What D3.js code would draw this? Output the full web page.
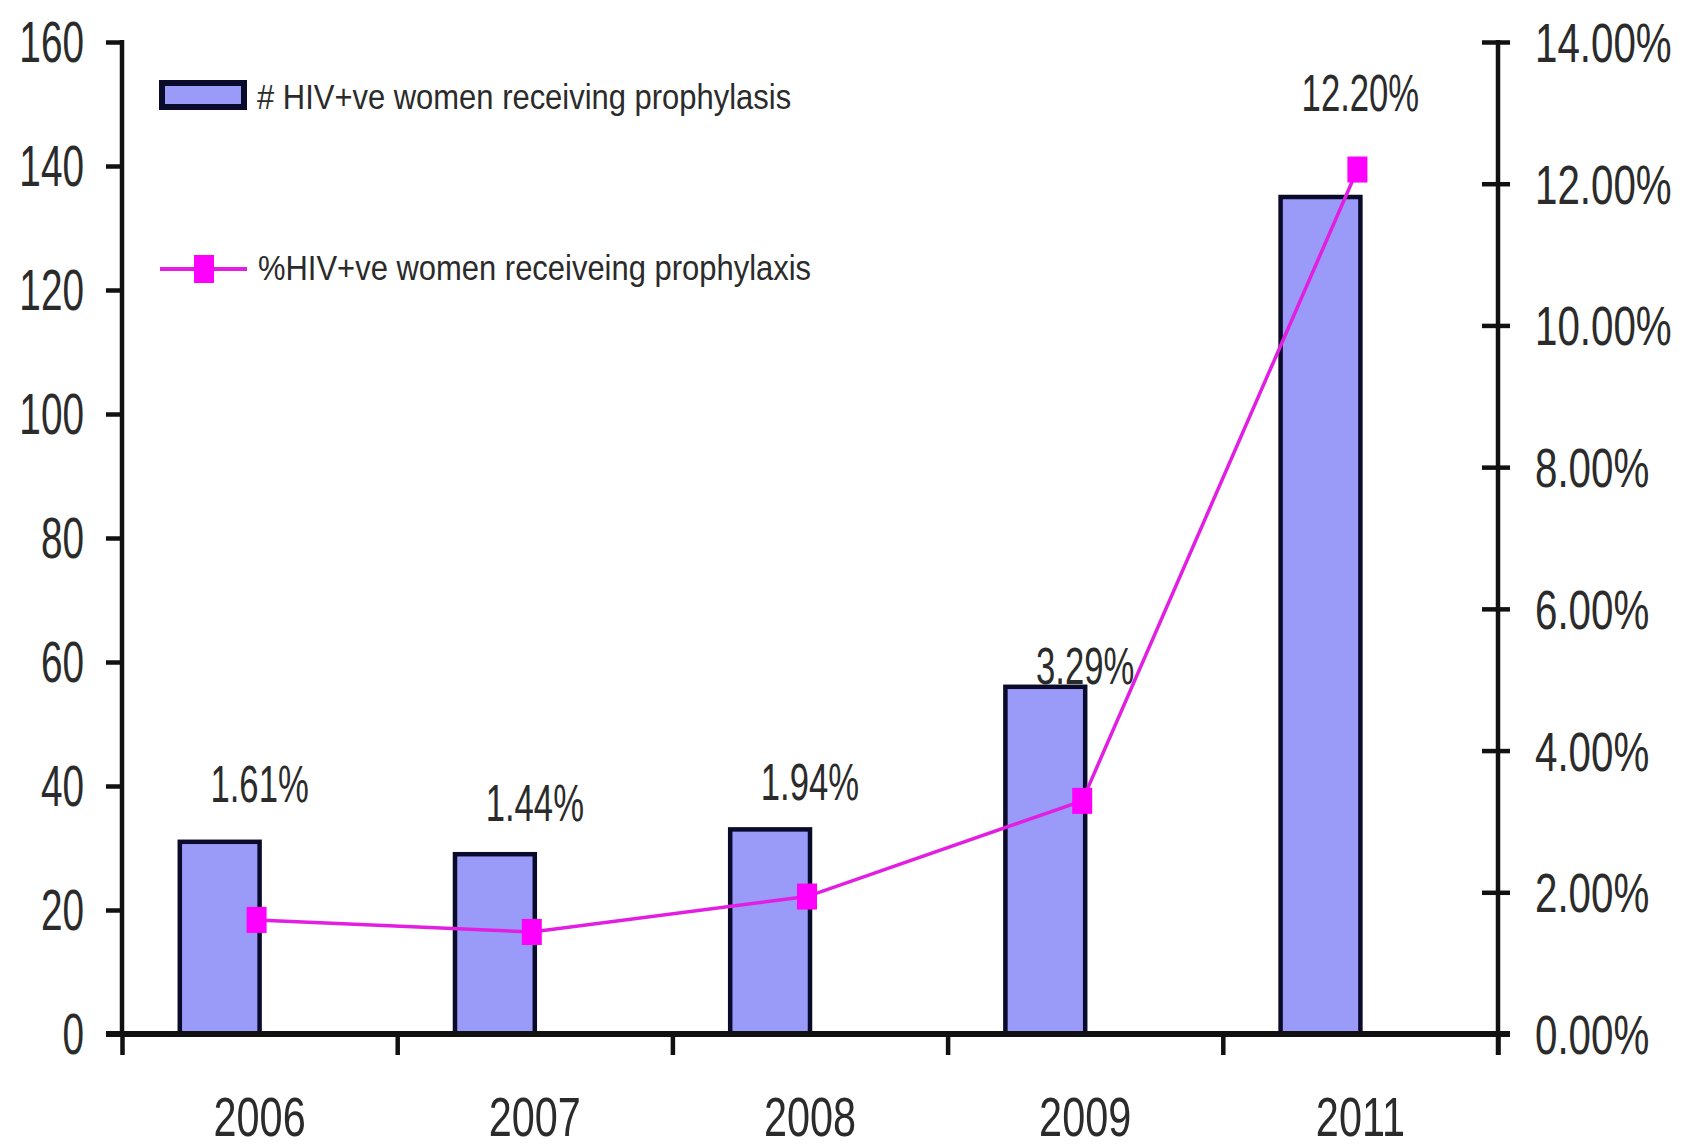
<!DOCTYPE html>
<html>
<head>
<meta charset="utf-8">
<script src="https://cdn.jsdelivr.net/npm/d3@7"></script>
<style>
  html, body { margin: 0; padding: 0; background: #ffffff; }
  svg { display: block; }
  text { font-family: "Liberation Sans", Arial, Helvetica, sans-serif; fill: #2b2b2b; }
</style>
</head>
<body>
<svg id="chart" width="1687" height="1148"></svg>
<script>
// ---- data ----
const years = ["2006", "2007", "2008", "2009", "2011"];
const womenOnProphylaxis = [31, 29, 33, 56, 135];             // count (left axis)
const pctOnProphylaxis = [0.0161, 0.0144, 0.0194, 0.0329, 0.1220]; // share (right axis)
const countTicks = [0, 20, 40, 60, 80, 100, 120, 140, 160];
const pctTicks = [0, 0.02, 0.04, 0.06, 0.08, 0.10, 0.12, 0.14];
const legendLabels = [
  "# HIV+ve women receiving prophylasis",
  "%HIV+ve women receiveing prophylaxis"
];

// ---- layout ----
const plot = { left: 122, right: 1498, top: 42, bottom: 1034 };
const labelLift = [135, 129, 114, 134, 76];   // distance of each % label above its point
const barColor = "#9a9af8";
const barEdge = "#0a0a2a";
const lineColor = "#e21ee2";
const markerColor = "#ff00ff";

const svg = d3.select("#chart");

const x = d3.scaleBand().domain(years).range([plot.left, plot.right]).padding(0);
const xEdge = d3.scaleLinear().domain([0, years.length]).range([plot.left, plot.right]);
const yCount = d3.scaleLinear().domain([0, 160]).range([plot.bottom, plot.top]);
const yPct = d3.scaleLinear().domain([0, 0.14]).range([plot.bottom, plot.top]);

const center = d => x(d) + x.bandwidth() / 2;
const barW = x.bandwidth() * 0.29;
const markerX = d => center(d) - 3;

// ---- bars (sit just left of the category centre) ----
svg.append("g").selectAll("rect")
  .data(years)
  .join("rect")
  .attr("x", d => center(d) - barW)
  .attr("y", (d, i) => yCount(womenOnProphylaxis[i]))
  .attr("width", barW)
  .attr("height", (d, i) => yCount(0) - yCount(womenOnProphylaxis[i]))
  .attr("fill", barColor)
  .attr("stroke", barEdge)
  .attr("stroke-width", 4.5);

// ---- axes ----
function styleAxis(g) {
  g.select(".domain").remove();
  g.selectAll(".tick line").attr("stroke", "#111").attr("stroke-width", 4.5);
}

// left axis
const leftAxis = svg.append("g")
  .attr("transform", `translate(${plot.left},0)`)
  .call(d3.axisLeft(yCount).tickValues(countTicks).tickFormat(d3.format("d")).tickSize(16));
styleAxis(leftAxis);
leftAxis.selectAll(".tick text")
  .attr("x", null).attr("dy", null)
  .attr("transform", "translate(-38,0) scale(0.68,1)")
  .attr("text-anchor", "end")
  .attr("dominant-baseline", "central")
  .style("font-size", "57px")
  .attr("fill", "#2b2b2b");

// right axis
const rightAxis = svg.append("g")
  .attr("transform", `translate(${plot.right},0)`)
  .call(d3.axisRight(yPct).tickValues(pctTicks).tickFormat(d3.format(".2%")).tickSize(12));
styleAxis(rightAxis);
rightAxis.selectAll(".tick line").attr("x1", -16).attr("x2", 12);
rightAxis.selectAll(".tick text")
  .attr("x", null).attr("dy", null)
  .attr("transform", "translate(37,0) scale(0.72,1)")
  .attr("text-anchor", "start")
  .attr("dominant-baseline", "central")
  .style("font-size", "56px")
  .attr("fill", "#2b2b2b");

// bottom axis: ticks on category boundaries
const edgeAxis = svg.append("g")
  .attr("transform", `translate(0,${plot.bottom})`)
  .call(d3.axisBottom(xEdge).tickValues(d3.range(years.length + 1)).tickFormat("").tickSize(21));
styleAxis(edgeAxis);

// bottom axis: year labels at category centres
const yearAxis = svg.append("g")
  .attr("transform", `translate(0,${plot.bottom})`)
  .call(d3.axisBottom(x).tickSize(0));
yearAxis.select(".domain").remove();
yearAxis.selectAll(".tick text")
  .attr("y", null).attr("dy", null)
  .attr("transform", "translate(0,82) scale(0.74,1)")
  .attr("dominant-baseline", "central")
  .style("font-size", "56px")
  .attr("fill", "#2b2b2b");

// axis lines
svg.append("line")
  .attr("x1", plot.left).attr("x2", plot.left)
  .attr("y1", plot.top - 2).attr("y2", plot.bottom)
  .attr("stroke", "#111").attr("stroke-width", 4.5);
svg.append("line")
  .attr("x1", plot.right).attr("x2", plot.right)
  .attr("y1", plot.top - 2).attr("y2", plot.bottom + 21)
  .attr("stroke", "#111").attr("stroke-width", 4.5);
svg.append("line")
  .attr("x1", plot.left - 16).attr("x2", plot.right + 12)
  .attr("y1", plot.bottom).attr("y2", plot.bottom)
  .attr("stroke", "#111").attr("stroke-width", 6);

// ---- percentage line ----
const line = d3.line()
  .x(d => markerX(d.year))
  .y(d => yPct(d.value));
const pctPoints = years.map((year, i) => ({ year, value: pctOnProphylaxis[i] }));

svg.append("path")
  .datum(pctPoints)
  .attr("d", line)
  .attr("fill", "none")
  .attr("stroke", lineColor)
  .attr("stroke-width", 3.5);

svg.append("g").selectAll("rect")
  .data(pctPoints)
  .join("rect")
  .attr("x", d => markerX(d.year) - 10)
  .attr("y", d => yPct(d.value) - 13)
  .attr("width", 20)
  .attr("height", 26)
  .attr("fill", markerColor);

// ---- % data labels ----
svg.append("g").selectAll("text")
  .data(pctPoints)
  .join("text")
  .attr("transform", (d, i) =>
    `translate(${center(d.year)},${yPct(d.value) - labelLift[i]}) scale(0.68,1)`)
  .attr("text-anchor", "middle")
  .attr("dominant-baseline", "central")
  .style("font-size", "51px")
  .text(d => d3.format(".2%")(d.value));

// ---- legend ----
const legend = svg.append("g");
legend.append("rect")
  .attr("x", 162).attr("y", 83)
  .attr("width", 82).attr("height", 24)
  .attr("fill", barColor)
  .attr("stroke", barEdge)
  .attr("stroke-width", 6);
legend.append("text")
  .attr("transform", "translate(257,97) scale(0.86,1)")
  .attr("dominant-baseline", "central")
  .style("font-size", "36px")
  .text(legendLabels[0]);

legend.append("line")
  .attr("x1", 160).attr("x2", 247)
  .attr("y1", 269).attr("y2", 269)
  .attr("stroke", lineColor).attr("stroke-width", 4);
legend.append("rect")
  .attr("x", 194).attr("y", 255)
  .attr("width", 20).attr("height", 28)
  .attr("fill", markerColor);
legend.append("text")
  .attr("transform", "translate(258,268) scale(0.86,1)")
  .attr("dominant-baseline", "central")
  .style("font-size", "36px")
  .text(legendLabels[1]);
</script>
</body>
</html>
